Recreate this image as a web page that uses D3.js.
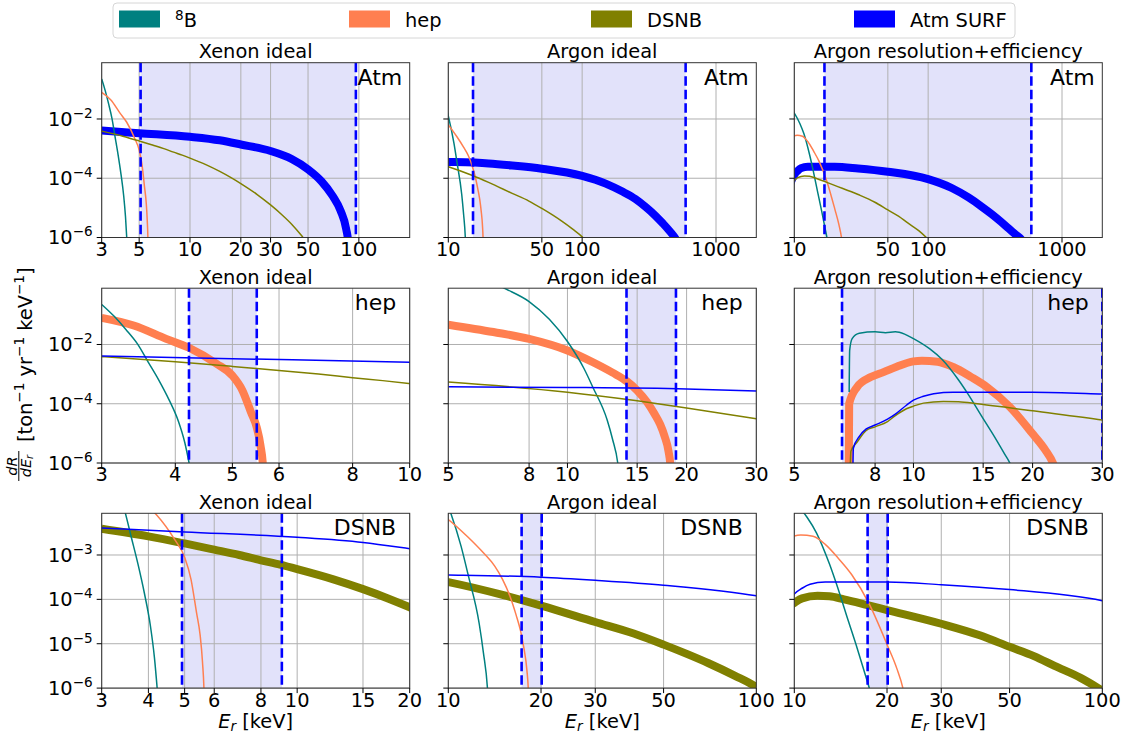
<!DOCTYPE html>
<html>
<head>
<meta charset="utf-8">
<script src="https://cdn.jsdelivr.net/npm/d3@7"></script>
<style>
  body { margin: 0; background: #fff; }
  svg { display: block; }
  text { font-family: "DejaVu Sans", sans-serif; fill: #000; }
</style>
</head>
<body>
<svg id="chart" width="1128" height="734"></svg>
<script>
// ---- Recoil spectra dR/dEr [ton^-1 yr^-1 keV^-1] as [Er (keV), rate] ----
// Xenon, ideal detector
const xe8B = [[3.0,0.224],[3.15,0.0891],[3.3,0.0316],[3.45,0.0105],[3.6,2.51e-3],[3.75,6.31e-4],[3.9,1.41e-4],[4.05,2.51e-5],[4.15,5.01e-6],[4.25,5.01e-7]];
const xeHep = [[3.0,0.0794],[3.4,0.0437],[3.86,0.0155],[4.22,7.76e-3],[4.7,2.24e-3],[5.0,8.91e-4],[5.2,2.82e-4],[5.38,5.01e-5],[5.5,1.58e-5],[5.58,3.98e-6],[5.64,6.31e-7],[5.66,3.16e-8]];
const xeDSNB = [[3,3.89e-3],[4,2.63e-3],[5,1.82e-3],[6,1.32e-3],[7,1.0e-3],[8,7.59e-4],[9,6.03e-4],[10,4.79e-4],[12.5,2.82e-4],[15,1.70e-4],[17.5,1.05e-4],[20,6.61e-5],[25,2.82e-5],[30,1.26e-5],[35,5.89e-6],[40,2.82e-6],[46,1.12e-6],[52,4.47e-7]];
const xeAtm = [[3,4.07e-3],[5,3.31e-3],[10,2.51e-3],[15,1.91e-3],[20,1.38e-3],[30,8.32e-4],[40,4.47e-4],[50,2.0e-4],[60,7.94e-5],[70,2.51e-5],[78,7.94e-6],[84,2.0e-6],[87,5.01e-7],[88,1.0e-7]];
// Argon, ideal detector
const ar8B = [[6.5,1.2],[7.0,0.74],[8,0.282],[9,0.0708],[10,0.0126],[11,1.58e-3],[11.6,3.55e-4],[12.6,2.82e-5],[13.0,6.31e-6],[13.4,1.0e-6],[13.6,1.58e-7]];
const arHep = [[5,0.0468],[6.5,0.0263],[8,0.0155],[10,6.31e-3],[11.6,2.51e-3],[13,1.12e-3],[14.15,5.62e-4],[15,2.82e-4],[15.9,1.12e-4],[16.6,4.47e-5],[17.15,2.0e-5],[17.6,7.94e-6],[18,2.51e-6],[18.2,7.94e-7],[18.3,1.0e-7]];
const arDSNB = [[5,5.37e-4],[10,2.45e-4],[15,1.26e-4],[20,7.24e-5],[30,3.09e-5],[40,1.70e-5],[50,9.55e-6],[60,5.75e-6],[70,3.63e-6],[85,1.91e-6],[100,1.05e-6],[110,6.31e-7]];
const arAtm = [[5,3.72e-4],[10,3.55e-4],[20,3.16e-4],[30,2.69e-4],[50,2.09e-4],[100,1.2e-4],[150,6.61e-5],[200,3.55e-5],[250,2.0e-5],[300,1.05e-5],[350,5.62e-6],[400,3.02e-6],[450,1.66e-6],[500,8.91e-7],[520,6.31e-7]];
// Argon with energy resolution and efficiency
const arRE8B = [[6.88,2.51e-4],[6.9,6.31e-3],[7.0,0.0158],[7.3,0.024],[8,0.0269],[8.5,0.0251],[9,0.0269],[9.5,0.0224],[10,0.0158],[11,7.08e-3],[11.8,3.16e-3],[13,6.31e-4],[13.7,2.24e-4],[15,3.16e-5],[16,7.94e-6],[17,2.0e-6],[17.6,8.91e-7],[18.2,3.16e-7]];
const arREHep = [[6.86,1.0e-7],[6.88,1.0e-4],[7.2,3.63e-4],[7.8,7.94e-4],[8.4,1.17e-3],[9.1,1.82e-3],[10,2.69e-3],[10.5,2.82e-3],[11.5,2.63e-3],[12.6,1.74e-3],[14,7.94e-4],[15.35,3.63e-4],[17.5,7.94e-5],[20.1,8.91e-6],[21.5,2.82e-6],[22.6,8.91e-7],[23.2,3.16e-7]];
const arREDSNB = [[6.9,1.0e-7],[6.95,2.51e-6],[7.2,5.01e-6],[7.6,1.26e-5],[8.0,1.66e-5],[8.6,2.51e-5],[9.0,3.98e-5],[9.6,6.76e-5],[10,8.32e-5],[10.6,1.05e-4],[11.9,1.2e-4],[13,1.17e-4],[14.5,1.0e-4],[17.3,7.41e-5],[20,5.75e-5],[30,2.82e-5],[40,1.55e-5],[50,8.51e-6],[60,5.25e-6],[70,3.16e-6],[85,1.70e-6],[97,1.0e-6],[105,7.08e-7]];
const arREAtm = [[7.02,1.0e-7],[7.05,3.16e-6],[7.3,7.94e-6],[7.6,1.41e-5],[8.0,1.91e-5],[8.6,3.02e-5],[9.0,4.47e-5],[9.6,8.91e-5],[10,1.32e-4],[10.6,1.78e-4],[11.25,2.19e-4],[12.6,2.45e-4],[20,2.45e-4],[30,2.14e-4],[50,1.66e-4],[100,9.33e-5],[150,4.68e-5],[200,2.24e-5],[250,1.12e-5],[300,6.03e-6],[350,3.39e-6],[400,2.0e-6],[450,1.26e-6],[500,8.32e-7],[520,6.31e-7]];

// ---- Panel definitions ----
const detectors = ["Xenon ideal", "Argon ideal", "Argon resolution+efficiency"];
const signalLabels = ["Atm", "hep", "DSNB"];
const seriesNames = ["8B", "hep", "DSNB", "Atm SURF"];
const seriesColors = ["#008080", "#ff7f50", "#808000", "#0000ff"];
const focusSeries = [3, 1, 2];   // series drawn thick in each row

const xDomains = [
  [[3, 200], [10, 2000], [10, 2000]],
  [[3, 10], [5, 30], [5, 30]],
  [[3, 20], [10, 100], [10, 100]]
];
const xTickValues = [
  [[3, 5, 10, 20, 30, 50, 100], [10, 50, 100, 1000], [10, 50, 100, 1000]],
  [[3, 4, 5, 6, 8, 10], [5, 8, 10, 15, 20, 30], [5, 8, 10, 15, 20, 30]],
  [[3, 4, 5, 6, 8, 10, 15, 20], [10, 20, 30, 50, 100], [10, 20, 30, 50, 100]]
];
const yDomains = [[1e-6, 0.794], [1e-6, 0.794], [1e-6, 8.7e-3]];
const yTickValues = [[1e-6, 1e-4, 1e-2], [1e-6, 1e-4, 1e-2], [1e-6, 1e-5, 1e-4, 1e-3]];
// signal region windows [Emin, Emax] (keV)
const windows = [
  [[5.1, 96], [15.3, 593], [16.8, 590]],
  [[4.22, 5.5], [14.1, 18.8], [6.6, 30]],
  [[4.92, 9.1], [17.3, 20.1], [17.3, 20.1]]
];

const spectra = [
  [xe8B, xeHep, xeDSNB, xeAtm],
  [ar8B, arHep, arDSNB, arAtm],
  [arRE8B, arREHep, arREDSNB, arREAtm]
];

// ---- Layout ----
const colLeft = [101.7, 448.3, 794.3];
const panelW = 308;
const rowTop = [62.7, 288.2, 513.3];
const panelH = 174.8;
const FS = 19.4;

const svg = d3.select("#chart");
const defs = svg.append("defs");

function powLabel(sel, v) {
  const e = Math.round(Math.log10(v));
  sel.append("tspan").text("10");
  sel.append("tspan").attr("dy", -8).style("font-size", "13.6px").text("\u2212" + Math.abs(e));
}

for (let r = 0; r < 3; r++) {
  for (let c = 0; c < 3; c++) {
    const x0 = colLeft[c], y0 = rowTop[r];
    const x = d3.scaleLog().domain(xDomains[r][c]).range([0, panelW]);
    const y = d3.scaleLog().domain(yDomains[r]).range([panelH, 0]);
    const g = svg.append("g").attr("transform", `translate(${x0},${y0})`);
    const clipId = `clip-${r}-${c}`;
    defs.append("clipPath").attr("id", clipId)
      .append("rect").attr("width", panelW).attr("height", panelH);

    // signal window shading
    const [wa, wb] = windows[r][c];
    g.append("rect")
      .attr("x", x(wa)).attr("y", 0)
      .attr("width", Math.min(x(wb), panelW) - x(wa)).attr("height", panelH)
      .attr("fill", "#e2e2fa");

    // grid
    const grid = g.append("g").attr("stroke", "#b0b0b0").attr("stroke-width", 1);
    xTickValues[r][c].forEach(v => {
      grid.append("line").attr("x1", x(v)).attr("x2", x(v)).attr("y1", 0).attr("y2", panelH);
    });
    yTickValues[r].forEach(v => {
      grid.append("line").attr("x1", 0).attr("x2", panelW).attr("y1", y(v)).attr("y2", y(v));
    });

    // spectra
    const line = d3.line().x(d => x(d[0])).y(d => y(d[1])).curve(d3.curveMonotoneX);
    const curves = g.append("g").attr("clip-path", `url(#${clipId})`).attr("fill", "none");
    const order = [focusSeries[r], ...[0, 1, 2, 3].filter(i => i !== focusSeries[r])];
    order.forEach(i => {
      curves.append("path")
        .attr("d", line(spectra[c][i]))
        .attr("stroke", seriesColors[i])
        .attr("stroke-width", i === focusSeries[r] ? 8 : 1.5)
        .attr("stroke-linejoin", "round");
    });

    // window edges
    const edges = g.append("g").attr("clip-path", `url(#${clipId})`);
    [wa, wb].forEach(v => {
      edges.append("line")
        .attr("x1", x(v)).attr("x2", x(v)).attr("y1", 0).attr("y2", panelH)
        .attr("stroke", "#0000ff").attr("stroke-width", 2.6)
        .attr("stroke-dasharray", "9.5,4");
    });

    // frame
    g.append("rect").attr("width", panelW).attr("height", panelH)
      .attr("fill", "none").attr("stroke", "#333").attr("stroke-width", 1);

    // x ticks
    xTickValues[r][c].forEach(v => {
      g.append("line").attr("x1", x(v)).attr("x2", x(v))
        .attr("y1", panelH).attr("y2", panelH + 5).attr("stroke", "#000");
      g.append("text").attr("x", x(v)).attr("y", panelH + 18.5)
        .attr("text-anchor", "middle").style("font-size", FS + "px").text(v);
    });
    // y ticks
    yTickValues[r].forEach(v => {
      g.append("line").attr("x1", -5).attr("x2", 0)
        .attr("y1", y(v)).attr("y2", y(v)).attr("stroke", "#000");
      if (c === 0) {
        const t = g.append("text").attr("x", -9).attr("y", y(v) + 7)
          .attr("text-anchor", "end").style("font-size", FS + "px");
        powLabel(t, v);
      }
    });

    // title and signal label
    g.append("text").attr("x", panelW / 2).attr("y", -4.5)
      .attr("text-anchor", "middle").style("font-size", FS + "px").text(detectors[c]);
    g.append("text").attr("x", panelW - (r === 0 ? 7.5 : 13.5)).attr("y", 22)
      .attr("text-anchor", "end").style("font-size", "22px").text(signalLabels[r]);

    // x label on bottom row
    if (r === 2) {
      const t = g.append("text").attr("x", panelW / 2).attr("y", panelH + 40.3)
        .attr("text-anchor", "middle").style("font-size", FS + "px");
      t.append("tspan").style("font-style", "italic").text("E");
      t.append("tspan").attr("dy", 2.5).style("font-style", "italic").style("font-size", "13.6px").text("r");
      t.append("tspan").attr("dy", -2.5).text(" [keV]");
    }
  }
}

// ---- y-axis label ----
const yl = svg.append("g").attr("transform", "translate(0,466) rotate(-90)");
yl.append("text").attr("x", 0).attr("y", 16.5).attr("text-anchor", "middle")
  .style("font-size", "14.5px").style("font-style", "italic").text("dR");
yl.append("line").attr("x1", -15).attr("x2", 15).attr("y1", 18.8).attr("y2", 18.8)
  .attr("stroke", "#000").attr("stroke-width", 1);
const den = yl.append("text").attr("x", 0).attr("y", 30.5).attr("text-anchor", "middle")
  .style("font-size", "14.5px").style("font-style", "italic");
den.append("tspan").text("dE");
den.append("tspan").attr("dy", 2.5).style("font-size", "10px").text("r");

const unit = svg.append("g").attr("transform", "translate(32,442) rotate(-90)")
  .append("text").attr("x", 0).attr("y", 0).style("font-size", FS + "px");
[["[ton", "1"], ["\u00a0yr", "1"], ["\u00a0keV", "1"]].forEach(([base, e], k) => {
  unit.append("tspan").attr("dy", k === 0 ? 0 : 8).text(base);
  unit.append("tspan").attr("dy", -8).style("font-size", "13.6px").text("\u2212" + e);
});
unit.append("tspan").attr("dy", 8).text("]");

// ---- legend ----
const lg = svg.append("g");
lg.append("rect").attr("x", 113).attr("y", 3).attr("width", 902).attr("height", 35)
  .attr("rx", 4).attr("fill", "#fff").attr("stroke", "#d6d6d6").attr("stroke-width", 1);
const swatchX = [119, 349, 591, 854];
seriesNames.forEach((name, i) => {
  lg.append("rect").attr("x", swatchX[i]).attr("y", 10.5).attr("width", 41).attr("height", 17)
    .attr("fill", seriesColors[i]);
  const t = lg.append("text").attr("x", swatchX[i] + 56).attr("y", 27)
    .style("font-size", FS + "px");
  if (name === "8B") {
    t.append("tspan").attr("dy", -7).style("font-size", "13.6px").text("8");
    t.append("tspan").attr("dy", 7).text("B");
  } else {
    t.text(name);
  }
});
</script>
</body>
</html>
